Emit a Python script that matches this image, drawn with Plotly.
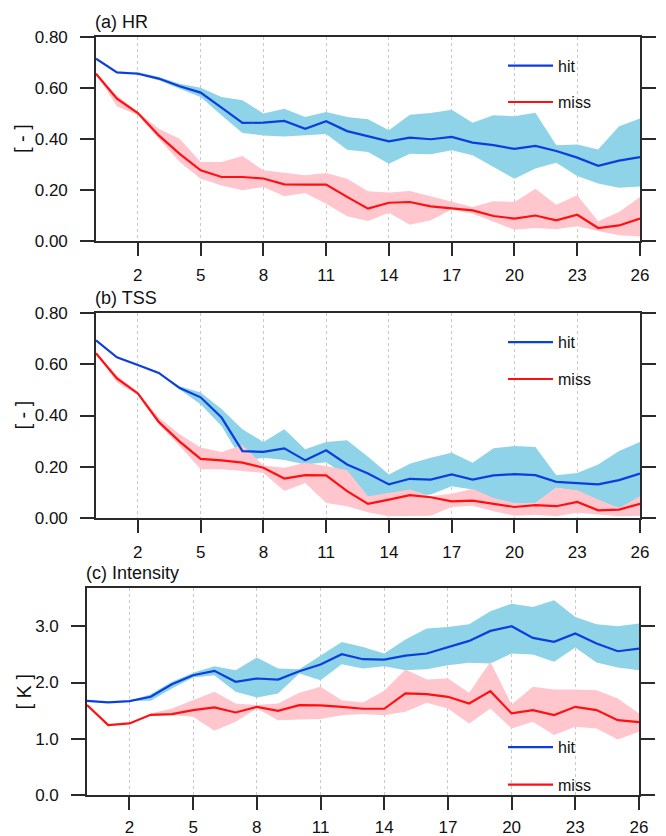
import plotly.graph_objects as go

# ---------------- data ----------------
lead = list(range(0, 27))
xtick_vals = [2, 5, 8, 11, 14, 17, 20, 23, 26]

hr_hit = [0.715, 0.661, 0.656, 0.637, 0.607, 0.582, 0.523, 0.463, 0.464, 0.471, 0.440, 0.470,
          0.431, 0.410, 0.391, 0.405, 0.399, 0.408, 0.386, 0.376, 0.361, 0.373, 0.353, 0.327,
          0.295, 0.315, 0.329]
hr_hit_hi = [0.715, 0.661, 0.663, 0.643, 0.617, 0.601, 0.565, 0.552, 0.500, 0.519, 0.486, 0.506,
             0.486, 0.477, 0.434, 0.495, 0.502, 0.515, 0.464, 0.493, 0.489, 0.503, 0.375, 0.378,
             0.359, 0.450, 0.480]
hr_hit_lo = [0.715, 0.661, 0.654, 0.630, 0.597, 0.565, 0.493, 0.424, 0.414, 0.410, 0.414, 0.420,
             0.358, 0.349, 0.303, 0.342, 0.340, 0.356, 0.336, 0.290, 0.244, 0.284, 0.307, 0.255,
             0.225, 0.209, 0.214]
hr_miss = [0.656, 0.558, 0.502, 0.414, 0.342, 0.277, 0.251, 0.251, 0.245, 0.222, 0.221, 0.221,
           0.173, 0.127, 0.150, 0.153, 0.136, 0.128, 0.120, 0.098, 0.088, 0.100, 0.081, 0.103,
           0.051, 0.061, 0.088]
hr_miss_hi = [0.656, 0.571, 0.506, 0.440, 0.401, 0.310, 0.310, 0.333, 0.277, 0.267, 0.258, 0.267,
              0.244, 0.195, 0.190, 0.196, 0.175, 0.152, 0.133, 0.156, 0.153, 0.205, 0.142, 0.179,
              0.077, 0.114, 0.173]
hr_miss_lo = [0.656, 0.528, 0.493, 0.401, 0.310, 0.244, 0.218, 0.199, 0.212, 0.175, 0.188, 0.146,
              0.097, 0.078, 0.111, 0.064, 0.081, 0.124, 0.107, 0.077, 0.044, 0.051, 0.046, 0.058,
              0.039, 0.023, 0.018]

tss_hit = [0.693, 0.627, 0.597, 0.566, 0.507, 0.471, 0.392, 0.261, 0.258, 0.272, 0.225, 0.264,
           0.209, 0.174, 0.131, 0.153, 0.150, 0.170, 0.150, 0.166, 0.171, 0.167, 0.141, 0.137,
           0.131, 0.148, 0.173]
tss_hit_hi = [0.693, 0.627, 0.597, 0.566, 0.514, 0.490, 0.425, 0.346, 0.297, 0.346, 0.268, 0.297,
              0.303, 0.239, 0.170, 0.212, 0.235, 0.255, 0.216, 0.272, 0.281, 0.277, 0.167, 0.176,
              0.209, 0.261, 0.297]
tss_hit_lo = [0.693, 0.627, 0.597, 0.566, 0.501, 0.444, 0.359, 0.222, 0.235, 0.226, 0.209, 0.218,
              0.163, 0.072, 0.098, 0.085, 0.092, 0.124, 0.111, 0.072, 0.055, 0.059, 0.118, 0.105,
              0.065, 0.039, 0.033]
tss_miss = [0.643, 0.545, 0.486, 0.375, 0.298, 0.231, 0.225, 0.216, 0.196, 0.154, 0.167, 0.166,
            0.105, 0.055, 0.072, 0.089, 0.081, 0.065, 0.068, 0.055, 0.043, 0.050, 0.046, 0.063,
            0.030, 0.033, 0.055]
tss_miss_hi = [0.643, 0.556, 0.493, 0.392, 0.327, 0.275, 0.258, 0.285, 0.205, 0.196, 0.216, 0.203,
               0.186, 0.085, 0.098, 0.111, 0.085, 0.095, 0.114, 0.078, 0.059, 0.059, 0.118, 0.108,
               0.072, 0.039, 0.085]
tss_miss_lo = [0.643, 0.529, 0.480, 0.366, 0.281, 0.190, 0.190, 0.183, 0.176, 0.105, 0.137, 0.059,
               0.046, 0.022, 0.007, 0.007, 0.009, 0.043, 0.048, 0.026, 0.009, 0.013, 0.007, 0.020,
               0.013, 0.007, 0.009]

int_hit = [1.675, 1.645, 1.669, 1.746, 1.970, 2.130, 2.207, 2.012, 2.071, 2.053, 2.201, 2.320,
           2.503, 2.414, 2.408, 2.479, 2.515, 2.621, 2.740, 2.917, 3.000, 2.793, 2.722, 2.870,
           2.692, 2.556, 2.604]
int_hit_hi = [1.675, 1.645, 1.669, 1.793, 2.012, 2.172, 2.290, 2.219, 2.444, 2.249, 2.237, 2.485,
              2.722, 2.633, 2.515, 2.763, 2.959, 2.988, 3.036, 3.266, 3.402, 3.343, 3.462, 3.166,
              3.036, 3.000, 3.047]
int_hit_lo = [1.675, 1.645, 1.669, 1.675, 1.893, 2.089, 2.130, 1.834, 1.734, 1.805, 2.160, 2.041,
              2.325, 2.249, 2.290, 2.219, 2.237, 2.308, 2.349, 2.337, 2.515, 2.497, 2.367, 2.621,
              2.355, 2.266, 2.219]
int_miss = [1.598, 1.243, 1.272, 1.426, 1.438, 1.509, 1.556, 1.467, 1.568, 1.497, 1.598, 1.592,
            1.568, 1.533, 1.533, 1.805, 1.793, 1.746, 1.627, 1.846, 1.450, 1.509, 1.420, 1.568,
            1.509, 1.331, 1.296]
int_miss_hi = [1.598, 1.243, 1.272, 1.450, 1.538, 1.686, 1.834, 1.627, 1.598, 1.627, 1.817, 1.923,
               1.686, 1.645, 1.852, 2.231, 2.053, 2.071, 1.817, 2.367, 1.609, 1.923, 1.876, 1.876,
               1.864, 1.716, 1.450]
int_miss_lo = [1.598, 1.243, 1.272, 1.420, 1.420, 1.390, 1.142, 1.302, 1.538, 1.331, 1.343, 1.349,
               1.420, 1.438, 1.420, 1.479, 1.639, 1.538, 1.272, 1.538, 1.183, 1.302, 1.065, 1.213,
               1.183, 0.988, 1.124]

panel_titles = ["(a) HR", "(b) TSS", "(c) Intensity"]
y_titles = ["[ - ]", "[ - ]", "[ K ]"]
series_names = ["hit", "miss"]

# ---------------- style ----------------
PAGE_OFF = 8                      # default body margin of the html page
W, H = 666 - PAGE_OFF, 836 - PAGE_OFF
FONT = "Liberation Sans, Arial, Helvetica, sans-serif"
BLUE = "#0b3fdc"
RED = "#ff1010"
BLUE_BAND = "#8ed3e8"
RED_BAND = "#ffc6ce"
AX = "#2a2a2a"
TXT = "#111111"


def px(v):
    return v - PAGE_OFF


# pixel boxes in screen coords [left, right, top, bottom]
boxes = [(96, 640, 37, 241), (96, 640, 313, 518), (87, 639, 588, 795)]
yranges = [[0, 0.8], [0, 0.8], [0, 3.68]]
ytickvals = [[0, 0.2, 0.4, 0.6, 0.8], [0, 0.2, 0.4, 0.6, 0.8], [0, 1, 2, 3]]
yfmt = [".2f", ".2f", ".1f"]
legend_y = [(65.7, 102.3), (342.3, 379.3), (747.3, 785.0)]
ytitle_x = [22, 22, 23]
xlabel_standoff = [5, 5, 3]

panels = [
    (hr_hit, hr_hit_lo, hr_hit_hi, hr_miss, hr_miss_lo, hr_miss_hi),
    (tss_hit, tss_hit_lo, tss_hit_hi, tss_miss, tss_miss_lo, tss_miss_hi),
    (int_hit, int_hit_lo, int_hit_hi, int_miss, int_miss_lo, int_miss_hi),
]

fig = go.Figure()
layout = dict(
    width=W, height=H,
    margin=dict(l=0, r=0, t=0, b=0, autoexpand=False),
    paper_bgcolor="white", plot_bgcolor="white",
    font=dict(family=FONT, size=16, color=TXT),
    showlegend=True,
    annotations=[],
)

for i, (hit, hit_lo, hit_hi, miss, miss_lo, miss_hi) in enumerate(panels):
    sfx = "" if i == 0 else str(i + 1)
    xa, ya = "x" + sfx, "y" + sfx
    lg = "legend" + sfx
    l, r, t, b = [px(v) for v in boxes[i]]
    # bands
    for lo, hi, col in ((hit_lo, hit_hi, BLUE_BAND), (miss_lo, miss_hi, RED_BAND)):
        fig.add_trace(go.Scatter(
            x=lead + lead[::-1], y=hi + lo[::-1], xaxis=xa, yaxis=ya,
            fill="toself", fillcolor=col, mode="lines", line=dict(width=0),
            showlegend=False, hoverinfo="skip"))
    # lines
    for k, (vals, col) in enumerate(((hit, BLUE), (miss, RED))):
        fig.add_trace(go.Scatter(
            x=lead, y=vals, xaxis=xa, yaxis=ya, mode="lines",
            line=dict(color=col, width=2.2), name=series_names[k],
            legend=lg, legendgroup=f"{i}-{k}", showlegend=True))

    layout["xaxis" + sfx] = dict(
        domain=[l / W, r / W], anchor=ya, range=[0, 26],
        tickmode="array", tickvals=xtick_vals, ticks="outside", ticklen=13,
        tickwidth=1.6, tickcolor=AX, showline=True, linecolor=AX, linewidth=1.6,
        mirror=True, showgrid=True, gridcolor="#c9c9c9", gridwidth=1, griddash="3px,3px",
        zeroline=False, tickfont=dict(size=17, family=FONT, color=TXT),
        ticklabelstandoff=xlabel_standoff[i], fixedrange=True,
    )
    layout["yaxis" + sfx] = dict(
        domain=[1 - b / H, 1 - t / H], anchor=xa, range=yranges[i],
        tickmode="array", tickvals=ytickvals[i], tickformat=yfmt[i],
        ticks="outside", ticklen=14, tickwidth=1.6, tickcolor=AX,
        showline=True, linecolor=AX, linewidth=1.6, mirror="ticks",
        showgrid=False, zeroline=False,
        tickfont=dict(size=17, family=FONT, color=TXT),
        ticklabelstandoff=9, fixedrange=True,
    )
    y1, y2 = [px(v) for v in legend_y[i]]
    layout[lg] = dict(
        x=px(503) / W, xanchor="left", y=1 - (y1 - 17) / H, yanchor="top",
        bgcolor="rgba(0,0,0,0)", borderwidth=0, tracegroupgap=y2 - y1 - 24,
        font=dict(size=16, family=FONT, color=TXT), itemwidth=45,
        traceorder="grouped",
    )
    layout["annotations"].append(dict(
        text=panel_titles[i], xref="paper", yref="paper", x=(l - 3) / W, y=1 - t / H,
        xanchor="left", yanchor="bottom", yshift=3, showarrow=False,
        font=dict(size=18, family=FONT, color=TXT)))
    layout["annotations"].append(dict(
        text=y_titles[i], xref="paper", yref="paper", x=px(ytitle_x[i]) / W,
        y=1 - (t + b) / 2 / H, xanchor="center", yanchor="middle", textangle=-90,
        showarrow=False, font=dict(size=20, family=FONT, color=TXT)))

fig.update_layout(**layout)
fig.write_html("out.html")
